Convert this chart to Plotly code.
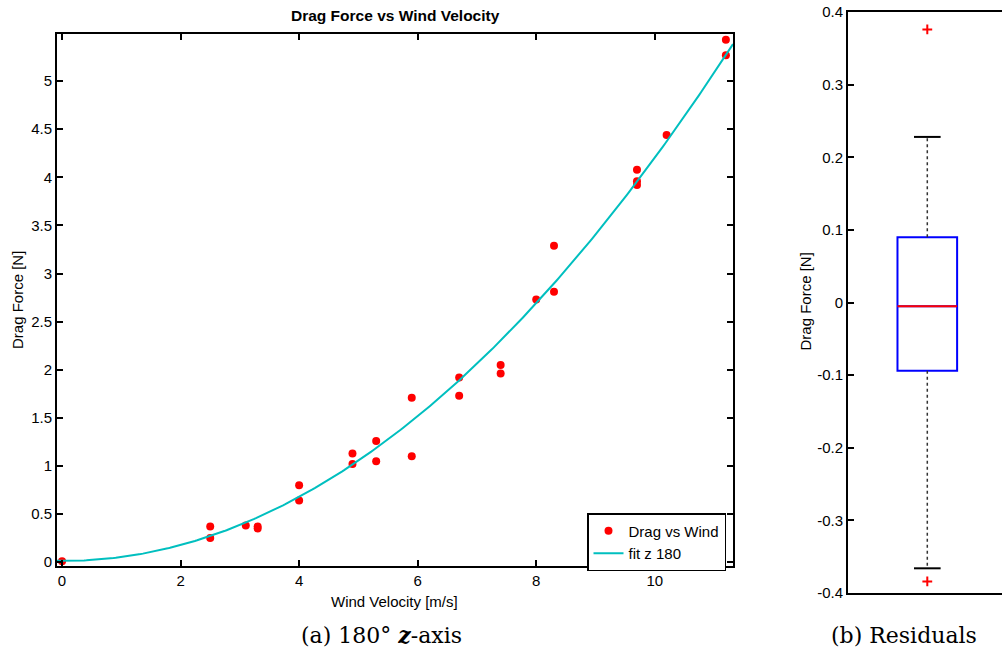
import numpy as np
import plotly.graph_objects as go

# ---- data ----
wind_velocity = [0.0, 2.5, 2.5, 3.1, 3.3, 3.3, 4.0, 4.0, 4.9, 4.9, 5.3, 5.3, 5.9, 5.9,
                 6.7, 6.7, 7.4, 7.4, 8.0, 8.3, 8.3, 9.7, 9.7, 9.7, 10.2, 11.2, 11.2]
drag_force = [0.01, 0.37, 0.25, 0.38, 0.37, 0.35, 0.80, 0.64, 1.13, 1.02, 1.26, 1.05, 1.71, 1.10,
              1.92, 1.73, 2.05, 1.96, 2.73, 2.81, 3.29, 4.08, 3.96, 3.92, 4.44, 5.43, 5.27]

# quadratic fit coefficients
fit_a, fit_b, fit_c = 0.0421, -0.002, 0.013

# residual box statistics
res_q1 = -0.094
res_median = -0.005
res_q3 = 0.090
res_lower_whisker = -0.366
res_upper_whisker = 0.228
res_outliers = [0.376, -0.384]

x_ticks = [0, 2, 4, 6, 8, 10]
x_ticktext = ["0", "2", "4", "6", "8", "10"]
y_ticks = [0, 0.5, 1, 1.5, 2, 2.5, 3, 3.5, 4, 4.5, 5]
y_ticktext = ["0", "0.5", "1", "1.5", "2", "2.5", "3", "3.5", "4", "4.5", "5"]
r_ticks = [-0.4, -0.3, -0.2, -0.1, 0, 0.1, 0.2, 0.3, 0.4]
r_ticktext = ["-0.4", "-0.3", "-0.2", "-0.1", "0", "0.1", "0.2", "0.3", "0.4"]

# ---- figure ----
W, H = 1002, 652
FONT = "Liberation Sans, Arial, Helvetica, sans-serif"
SERIF = "DejaVu Serif, serif"
CYAN = "#00BFBF"
FS = 15

x_range = [-0.085, 11.32]
y_range = [-0.04, 5.49]

fig = go.Figure()

fig.add_trace(go.Scatter(
    x=wind_velocity, y=drag_force, mode="markers", name="Drag vs Wind",
    marker=dict(color="#FF0000", size=8, line=dict(width=0)),
    xaxis="x", yaxis="y"))

xf = np.linspace(x_range[0], x_range[1], 300)
yf = fit_a * xf ** 2 + fit_b * xf + fit_c
fig.add_trace(go.Scatter(
    x=xf, y=yf, mode="lines", name="fit z 180",
    line=dict(color=CYAN, width=2), xaxis="x", yaxis="y"))

# ---- residual boxplot ----
pos = 1.0
box_w = 0.376
cap_half = 0.084
fig.add_trace(go.Box(
    x=[pos], q1=[res_q1], median=[res_median], q3=[res_q3],
    lowerfence=[res_q1], upperfence=[res_q3],
    width=box_w, whiskerwidth=0, line=dict(color="#0000FF", width=2),
    fillcolor="rgba(255,255,255,0)", boxpoints=False, showlegend=False,
    xaxis="x2", yaxis="y2"))
# median in red
fig.add_trace(go.Scatter(
    x=[pos - box_w / 2, pos + box_w / 2], y=[res_median, res_median], mode="lines",
    line=dict(color="#FF0000", width=2), showlegend=False, xaxis="x2", yaxis="y2"))
# whiskers (dotted) and caps
for a, b in [(res_q3, res_upper_whisker), (res_q1, res_lower_whisker)]:
    fig.add_trace(go.Scatter(
        x=[pos, pos], y=[a, b], mode="lines",
        line=dict(color="#333333", width=1.5, dash="dot"),
        showlegend=False, xaxis="x2", yaxis="y2"))
    fig.add_trace(go.Scatter(
        x=[pos - cap_half, pos + cap_half], y=[b, b], mode="lines",
        line=dict(color="black", width=2), showlegend=False, xaxis="x2", yaxis="y2"))
fig.add_trace(go.Scatter(
    x=[pos] * len(res_outliers), y=res_outliers, mode="markers",
    marker=dict(symbol="cross-thin", size=7, line=dict(color="#FF0000", width=2)),
    showlegend=False, xaxis="x2", yaxis="y2"))

axis_common = dict(showline=True, linecolor="black", linewidth=2, ticks="inside",
                   ticklen=6, tickwidth=2, tickcolor="black", showgrid=False,
                   zeroline=False, automargin=False,
                   tickfont=dict(family=FONT, size=FS, color="black"))

L0, L1 = 57 / W, 733 / W
LB, LT = 1 - 566 / H, 1 - 34 / H
R0 = 848 / W
RB, RT = 1 - 593 / H, 1 - 12 / H

# right axes: position 1 at pixel ~927, left edge 848 at 0.5
px_per_unit = (927.3 - 848) / 0.5
r_x_right = 0.5 + (W - 848) / px_per_unit


def ann(text, xpx, ypx, size=FS, family=FONT, angle=0, yanchor="middle"):
    return dict(text=text, x=xpx / W, y=1 - ypx / H, xref="paper", yref="paper",
                showarrow=False, xanchor="center", yanchor=yanchor, textangle=angle,
                font=dict(family=family, size=size, color="black"))


fig.update_layout(
    width=W, height=H, margin=dict(l=0, r=0, t=0, b=0, autoexpand=False),
    paper_bgcolor="white", plot_bgcolor="white",
    font=dict(family=FONT, size=FS, color="black"),
    xaxis=dict(domain=[L0, L1], range=x_range, tickvals=x_ticks, ticktext=x_ticktext,
               mirror="ticks", anchor="y", **axis_common),
    yaxis=dict(domain=[LB, LT], range=y_range, tickvals=y_ticks, ticktext=y_ticktext,
               mirror="ticks", anchor="x", **axis_common),
    xaxis2=dict(domain=[R0, 1.0], range=[0.5, r_x_right], anchor="y2",
                showline=True, linecolor="black", linewidth=2, mirror=True,
                showticklabels=False, ticks="", showgrid=False, zeroline=False,
                automargin=False),
    yaxis2=dict(domain=[RB, RT], range=[-0.4, 0.4], tickvals=r_ticks, ticktext=r_ticktext,
                anchor="x2", **axis_common),
    legend=dict(x=587 / W, y=1 - 513 / H, xanchor="left", yanchor="top",
                bgcolor="white", bordercolor="black", borderwidth=1.5,
                font=dict(family=FONT, size=FS, color="black"),
                tracegroupgap=0, itemwidth=30),
    annotations=[
        ann("<b>Drag Force vs Wind Velocity</b>", 395, 16, size=15.5),
        ann("Wind Velocity [m/s]", 394.5, 591, yanchor="top"),
        ann("Drag Force [N]", 17, 300, angle=-90),
        ann("Drag Force [N]", 804.5, 302, angle=-90),
        ann("(a) 180° <b><i>z</i></b>-axis", 381, 635, size=22, family=SERIF),
        ann("(b) Residuals", 903.5, 635, size=22, family=SERIF),
    ],
)

fig.write_html("out.html", config={"displayModeBar": False},
               post_script="document.body.style.margin='0';document.body.style.overflow='hidden';")
